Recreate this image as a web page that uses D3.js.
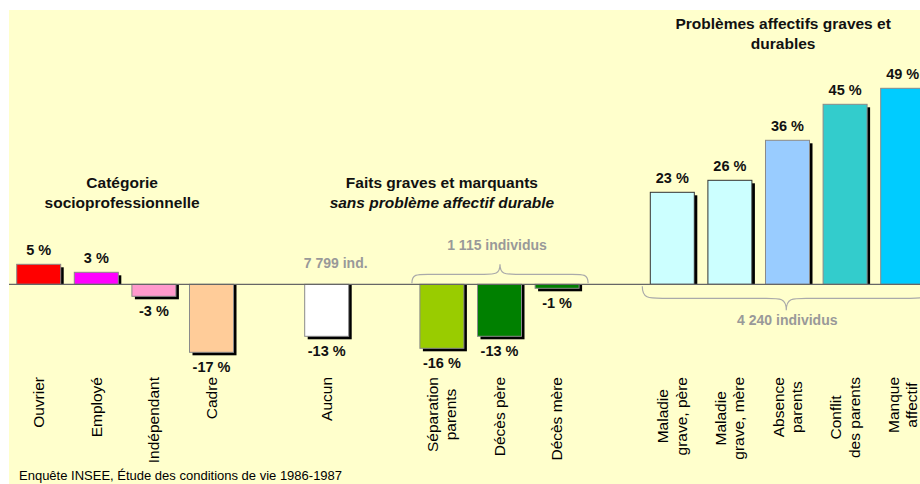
<!DOCTYPE html>
<html><head><meta charset="utf-8">
<script src="https://cdn.jsdelivr.net/npm/d3@7"></script>
<style>body{margin:0;background:#fff}svg{display:block}text{font-family:"Liberation Sans",Arial,sans-serif}</style>
</head><body>
<svg id="c" width="920" height="484"></svg>
<script>
// ---- data ----
const catSocio = ["Ouvrier", "Employé", "Indépendant", "Cadre"];
const valSocio = [5, 3, -3, -17];
const colSocio = ["#FF0000", "#FF00FF", "#FF99CC", "#FFCC99"];

const catAucun = ["Aucun"];
const valAucun = [-13];
const colAucun = ["#FFFFFF"];

const catFaits = ["Séparation\nparents", "Décès père", "Décès mère"];
const valFaits = [-16, -13, -1];
const colFaits = ["#99CC00", "#008000", "#008000"];

const catAffect = ["Maladie\ngrave, père", "Maladie\ngrave, mère", "Absence\nparents", "Conflit\ndes parents", "Manque\naffectif"];
const valAffect = [23, 26, 36, 45, 49];
const colAffect = ["#CCFFFF", "#CCFFFF", "#99CCFF", "#33CCCC", "#00CCFF"];

const titleSocio = ["Catégorie", "socioprofessionnelle"];
const titleFaits = ["Faits graves et marquants", "sans problème affectif durable"];
const titleAffect = ["Problèmes affectifs graves et", "durables"];
const noteAucun = "7 799 ind.";
const noteFaits = "1 115 individus";
const noteAffect = "4 240 individus";
const source = "Enquête INSEE, Étude des conditions de vie 1986-1987";

// ---- build ----
const rows = [];
[[catSocio, valSocio, colSocio], [catAucun, valAucun, colAucun], [catFaits, valFaits, colFaits], [catAffect, valAffect, colAffect]]
  .forEach(([c, v, col], gi) => {
    if (gi > 0) rows.push({key: "gap" + gi, gap: true});
    c.forEach((name, i) => rows.push({key: name, value: v[i], color: col[i]}));
  });
const bars = rows.filter(r => !r.gap);

const svg = d3.select("#c");
svg.append("rect").attr("x", 9).attr("y", 10).attr("width", 911).attr("height", 474).attr("fill", "#FFFFCC");

const x = d3.scaleBand().domain(rows.map(r => r.key)).range([16.7, 924.7]).paddingInner(0.236).paddingOuter(0);
const y = d3.scaleLinear().domain([-20, 50]).range([364.3, 84.3]);
const y0 = y(0);
const bw = x.bandwidth();

// shadows
svg.append("g").selectAll("rect").data(bars).join("rect")
  .attr("x", d => x(d.key) + 3)
  .attr("y", d => d.value > 0 ? y(d.value) + 3 : y0)
  .attr("width", bw)
  .attr("height", d => d.value > 0 ? y0 - y(d.value) - 3 : y(d.value) - y0 + 3)
  .attr("fill", "#000");

// bars
svg.append("g").selectAll("rect").data(bars).join("rect")
  .attr("x", d => x(d.key))
  .attr("y", d => Math.min(y(d.value), y0))
  .attr("width", bw)
  .attr("height", d => Math.abs(y(d.value) - y0))
  .attr("fill", d => d.color)
  .attr("stroke", d => d.color === "#CCFFFF" ? "#333" : "#8a8a8a")
  .attr("stroke-width", 1);

// baseline
svg.append("line").attr("x1", 9).attr("x2", 920).attr("y1", y0).attr("y2", y0)
  .attr("stroke", "#666").attr("stroke-width", 1.2);

// value labels
svg.append("g").selectAll("text").data(bars).join("text")
  .attr("x", d => x(d.key) + bw / 2)
  .attr("y", d => d.value > 0 ? y(d.value) - 9.5 : y(d.value) + 20)
  .attr("text-anchor", "middle")
  .attr("font-size", 14.5).attr("font-weight", "bold").attr("fill", "#111")
  .text(d => d.value + " %");

// category labels (rotated)
const lab = svg.append("g").attr("font-size", 15.5).attr("fill", "#000");
bars.forEach(d => {
  const lines = d.key.split("\n");
  const g = lab.append("g").attr("transform", `translate(${x(d.key) + bw / 2},377) rotate(-90)`);
  const ts = lines.map((l, i) => g.append("text")
    .attr("y", 5.3 + (i - (lines.length - 1) / 2) * 18.5)
    .text(l));
  const maxLen = d3.max(ts, t => t.node().getComputedTextLength());
  ts.forEach(t => t.attr("text-anchor", "middle").attr("x", -maxLen / 2));
});

// titles
function title(lines, cx, yTop, italicSecond) {
  lines.forEach((l, i) => svg.append("text")
    .attr("x", cx).attr("y", yTop + i * 19.5)
    .attr("text-anchor", "middle").attr("font-size", 15.5).attr("font-weight", "bold")
    .attr("font-style", italicSecond && i === 1 ? "italic" : "normal")
    .attr("fill", "#111").text(l));
}
const cSocio = (x(catSocio[0]) + x(catSocio[3]) + bw) / 2 - 3;
title(titleSocio, cSocio, 188, false);
title(titleFaits, x(catAucun[0]) + (x(catFaits[2]) + bw - x(catAucun[0])) / 2, 188, true);
title(titleAffect, (x(catAffect[0]) + 920) / 2 - 2, 29, false);

// braces
function brace(x1, x2, yb, arm, tip, r) {
  const xm = (x1 + x2) / 2, ya = yb + arm, yt = yb + tip;
  const p = d3.path();
  p.moveTo(x1, yb);
  p.bezierCurveTo(x1, ya, x1 + r * 0.3, ya, x1 + r, ya);
  p.lineTo(xm - r, ya);
  p.bezierCurveTo(xm - r * 0.3, ya, xm, ya, xm, yt);
  p.bezierCurveTo(xm, ya, xm + r * 0.3, ya, xm + r, ya);
  p.lineTo(x2 - r, ya);
  p.bezierCurveTo(x2 - r * 0.3, ya, x2, ya, x2, yb);
  return p.toString();
}
const fx1 = x(catFaits[0]) - 8, fx2 = x(catFaits[2]) + bw + 9;
svg.append("path").attr("d", brace(fx1, fx2, y0 - 1, -9, -19, 16))
  .attr("fill", "none").attr("stroke", "#aaa").attr("stroke-width", 1.2);
const ax1 = x(catAffect[0]) - 8, ax2 = ax1 + 2 * 144;
svg.append("path").attr("d", brace(ax1, ax2, y0 + 2, 12, 24, 20))
  .attr("fill", "none").attr("stroke", "#aaa").attr("stroke-width", 1.2);

// gray notes
function note(t, cx, yy) {
  svg.append("text").attr("x", cx).attr("y", yy).attr("text-anchor", "middle")
    .attr("font-size", 14).attr("font-weight", "bold").attr("fill", "#999").text(t);
}
note(noteAucun, x(catAucun[0]) + bw / 2 + 9, 268);
note(noteFaits, (fx1 + fx2) / 2 - 3, 250);
note(noteAffect, (ax1 + ax2) / 2 + 1, 325);

// source
svg.append("text").attr("x", 19).attr("y", 480).attr("font-size", 13).attr("fill", "#000").text(source);
</script>
</body></html>
